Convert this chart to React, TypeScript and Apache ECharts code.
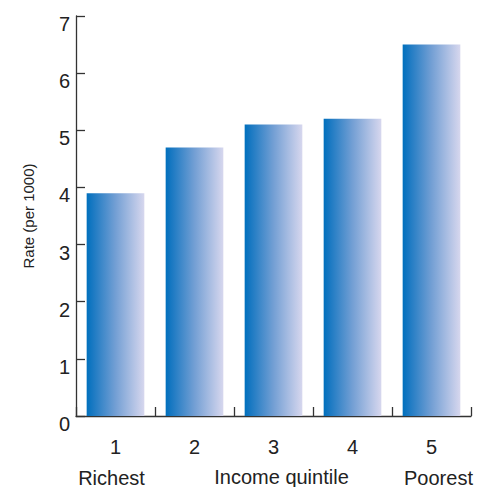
import React, { useEffect, useRef } from "react";
import * as echarts from "echarts";

// Income quintiles and their rates per 1000
const quintiles = ["1", "2", "3", "4", "5"];
const quintileNotes = ["Richest", "", "", "", "Poorest"];
const rates = [3.9, 4.7, 5.1, 5.2, 6.5];
const yTicks = { min: 0, max: 7, interval: 1 };

const FONT = "Liberation Sans Narrow, Liberation Sans, Arial, sans-serif";
const INK = "#222";

export default function App() {
  const ref = useRef<HTMLDivElement>(null);

  useEffect(() => {
    if (!ref.current) return;
    const chart = echarts.init(ref.current, null, { renderer: "svg" });

    const barFill = new echarts.graphic.LinearGradient(0, 0, 1, 0, [
      { offset: 0, color: "#0070bd" },
      { offset: 0.1, color: "#1878c2" },
      { offset: 0.5, color: "#739fd4" },
      { offset: 1, color: "#d7d7ee" },
    ]);

    chart.setOption({
      animation: false,
      backgroundColor: "#ffffff",
      grid: {
        left: 76,
        right: 14,
        top: 16,
        bottom: 71,
        containLabel: false,
        outerBoundsMode: "none",
      },
      xAxis: {
        type: "category",
        data: quintiles,
        name: "Income quintile",
        nameLocation: "middle",
        nameGap: 50,
        nameMoveOverlap: false,
        nameTextStyle: {
          fontFamily: FONT,
          fontSize: 20,
          color: INK,
          lineHeight: 22,
          padding: [0, 0, 0, 16],
        },
        axisLine: { lineStyle: { color: "#333", width: 1.3 } },
        axisTick: {
          show: true,
          inside: true,
          length: 9,
          alignWithLabel: false,
          interval: 0,
          lineStyle: { color: "#333", width: 1.3 },
        },
        axisLabel: {
          interval: 0,
          margin: 15,
          fontFamily: FONT,
          fontSize: 20,
          color: INK,
          lineHeight: 31,
          formatter: (value: string, idx: number) => {
            const note = quintileNotes[idx];
            if (!note) return value;
            const key = idx === 0 ? "left" : "right";
            return `${value}\n{${key}|${note}}`;
          },
          rich: {
            left: { fontFamily: FONT, fontSize: 20, color: INK, lineHeight: 31, padding: [0, 8, 0, 0] },
            right: { fontFamily: FONT, fontSize: 20, color: INK, lineHeight: 31, padding: [0, 0, 0, 14] },
          },
        },
        splitLine: { show: false },
      },
      yAxis: {
        type: "value",
        min: yTicks.min,
        max: yTicks.max,
        interval: yTicks.interval,
        name: "Rate (per 1000)",
        nameLocation: "middle",
        nameGap: 40,
        nameRotate: 90,
        nameMoveOverlap: false,
        nameTextStyle: { fontFamily: FONT, fontSize: 15, color: INK },
        axisLine: { show: true, lineStyle: { color: "#333", width: 1.3 } },
        axisTick: {
          show: true,
          inside: true,
          length: 9,
          lineStyle: { color: "#333", width: 1.3 },
        },
        axisLabel: {
          margin: 6,
          fontFamily: FONT,
          fontSize: 20,
          color: INK,
          verticalAlign: "top",
          lineHeight: 16,
        },
        splitLine: { show: false },
      },
      series: [
        {
          type: "bar",
          data: rates,
          barWidth: "73%",
          itemStyle: { color: barFill },
        },
      ],
    });

    return () => chart.dispose();
  }, []);

  return <div ref={ref} style={{ width: 485, height: 487, position: "absolute", left: 0, top: 0 }} />;
}
